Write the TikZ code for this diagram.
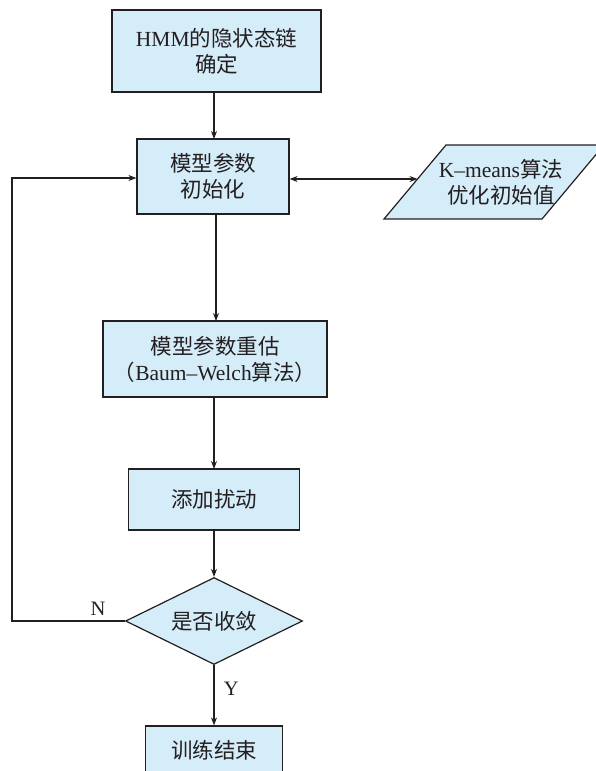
\documentclass[tikz,border=0pt]{standalone}
\usepackage{fontspec}
\setmainfont{Liberation Serif}
\newfontfamily\cjk{Noto Sans CJK SC}
\usetikzlibrary{arrows.meta,shapes.geometric,calc}
\definecolor{boxfill}{HTML}{D5ECF9}
\definecolor{linec}{HTML}{231F20}
\begin{document}
\begin{tikzpicture}[x=1pt,y=-1pt,
  every node/.style={text=linec,font=\fontsize{21.5}{26}\selectfont},
  procbox/.style={draw=linec,fill=boxfill,line width=1.2pt,rectangle,align=center,inner sep=0pt},
  decbox/.style={draw=linec,fill=boxfill,line width=1.2pt,diamond,aspect=2,align=center,inner sep=0pt,minimum width=177pt,minimum height=87pt},
  conn/.style={draw=linec,line width=1.2pt,-{Stealth[length=8pt,width=6pt]}},
  lbl/.style={font=\fontsize{20.5}{24}\selectfont}]
\useasboundingbox (0,0) rectangle (595,771);
\node[procbox,minimum width=209pt,minimum height=82pt] (b1) at (216.5,51) {HMM{\cjk 的隐状态链}\\{\cjk 确定}};
\node[procbox,minimum width=152pt,minimum height=75pt] (b2) at (213,176.5) {{\cjk 模型参数}\\{\cjk 初始化}};
\draw[draw=linec,fill=boxfill,line width=1.2pt] (384,219) -- (446,145) -- (604,145) -- (542,219) -- cycle;
\node[align=center] (km) at (501,182) {K–means{\cjk 算法}\\{\cjk 优化初始值}};
\coordinate (kmleft) at (417.5,179);
\node[procbox,minimum width=224pt,minimum height=76pt] (b3) at (215,359) {{\cjk 模型参数重估}\\{\cjk （}Baum–Welch{\cjk 算法）}};
\node[procbox,minimum width=171pt,minimum height=61pt] (b4) at (214,499.5) {{\cjk 添加扰动}};
\node[decbox] (d) at (214,621) {{\cjk 是否收敛}};
\node[procbox,minimum width=137pt,minimum height=48pt] (b5) at (214,750) {{\cjk 训练结束}};
\coordinate (fbl) at (12,621);
\coordinate (fbu) at (12,178);
\draw[conn] (214,92) -- (214,139);
\draw[conn] (216,214) -- (216,321);
\draw[conn] (214,397) -- (214,469);
\draw[conn] (b4.south) -- (d.north);
\draw[conn] (d.south) -- node[lbl,right,pos=0.4,xshift=6pt] (y) {Y} (b5.north);
\draw[conn] (d.west) -- (fbl) -- (fbu) -- (b2.west |- fbu);
\node[lbl] (n) at (98,609) {N};
\draw[draw=linec,line width=1.2pt,{Stealth[length=8pt,width=6pt]}-{Stealth[length=8pt,width=6pt]}] (b2.east |- kmleft) -- (kmleft);
\end{tikzpicture}
\end{document}
